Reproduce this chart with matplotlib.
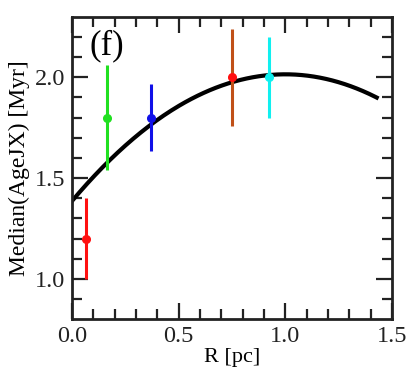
import matplotlib as mpl
import matplotlib.pyplot as plt
import numpy as np

mpl.rcParams["font.family"] = "Liberation Serif"
mpl.rcParams["mathtext.fontset"] = "stix"

# measured points (R in pc, median age in Myr, error bar limits)
R_PC = [0.066, 0.166, 0.37, 0.748, 0.923]
AGE = [1.20, 1.80, 1.80, 2.00, 2.00]
AGE_LO = [1.00, 1.54, 1.635, 1.76, 1.80]
AGE_HI = [1.40, 2.06, 1.965, 2.24, 2.20]
BAR_COLORS = ["#FF1010", "#20E020", "#1010E8", "#C05018", "#10F0F0"]
MARKER_COLORS = ["#FF1010", "#20E020", "#1010E8", "#FF1010", "#10F0F0"]

# quadratic fit coefficients (c0 + c1*R + c2*R^2) and its range
FIT_COEF = [1.385, 1.26, -0.63]
FIT_RANGE = [0.0, 1.428]


def main():
    fig = plt.figure(figsize=(4.08, 3.84), dpi=100)
    ax = fig.add_axes([0.176, 0.169, 0.785, 0.787])

    rr = np.linspace(FIT_RANGE[0], FIT_RANGE[1], 200)
    ax.plot(rr, np.polyval(FIT_COEF[::-1], rr), color="black", lw=3.0,
            zorder=2)

    for x, y, lo, hi, bc, mc in zip(R_PC, AGE, AGE_LO, AGE_HI,
                                    BAR_COLORS, MARKER_COLORS):
        ax.errorbar(x, y, yerr=[[y - lo], [hi - y]], fmt="none",
                    ecolor=bc, elinewidth=2.2, capsize=0, zorder=3)
        ax.plot(x, y, "o", color=mc, markersize=5.5, zorder=4)

    ax.set_xlim(0, 1.5)
    ax.set_ylim(0.8, 2.3)
    ax.set_xticks([0.0, 0.5, 1.0, 1.5])
    ax.set_xticks(np.arange(0, 1.5, 0.1), minor=True)
    ax.set_yticks([1.0, 1.5, 2.0])
    ax.set_yticks(np.arange(0.9, 2.3, 0.1), minor=True)
    ax.set_xticklabels(["0.0", "0.5", "1.0", "1.5"])
    ax.set_yticklabels(["1.0", "1.5", "2.0"])

    ax.tick_params(which="both", direction="in", top=True, right=True,
                   width=1.6, labelsize=17.5, colors="#222222")
    ax.tick_params(which="major", length=11.5, pad=5)
    ax.tick_params(which="minor", length=7)
    for sp in ax.spines.values():
        sp.set_linewidth(2.0)
        sp.set_color("#222222")

    ax.set_xlabel("R [pc]", fontsize=16, labelpad=1)
    ax.set_ylabel("Median(AgeJX) [Myr]", fontsize=17, labelpad=3)
    ax.text(0.056, 0.905, "(f)", transform=ax.transAxes, fontsize=25,
            ha="left", va="center")

    fig.savefig("out.png", dpi=100)


if __name__ == "__main__":
    main()
